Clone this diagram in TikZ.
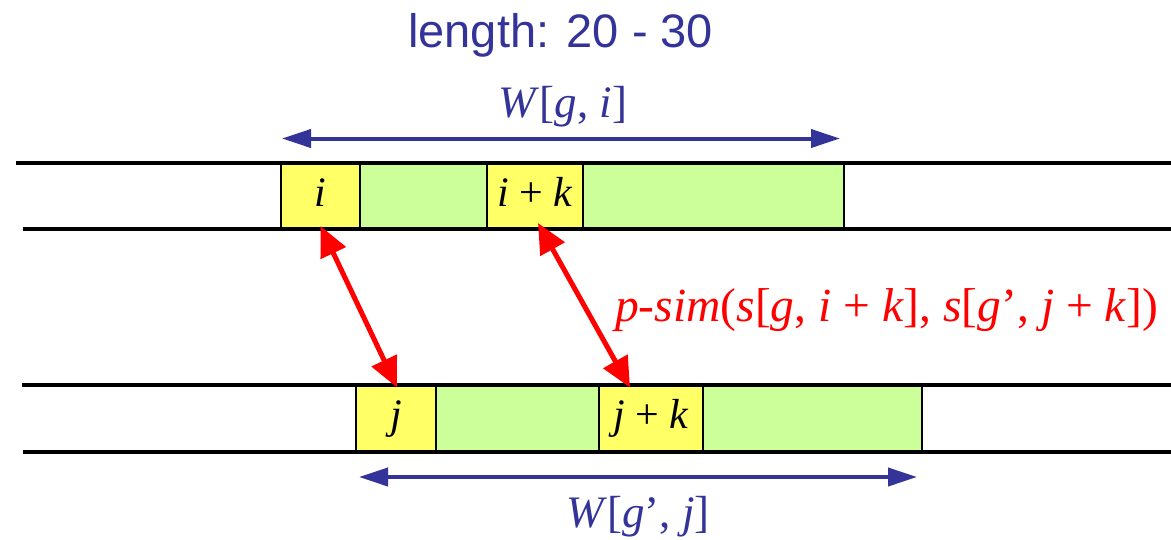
\documentclass[tikz,border=0pt]{standalone}
\usepackage{fontspec}
\setmainfont{Liberation Serif}
\newfontfamily\arialfont{Liberation Sans}
\usetikzlibrary{arrows.meta}
\definecolor{dblue}{RGB}{51,51,153}
\definecolor{byellow}{RGB}{255,255,102}
\definecolor{lgreen}{RGB}{204,255,153}
\begin{document}
\begin{tikzpicture}[x=1pt,y=-1pt,
  cell/.style={draw=black,line width=2pt,inner sep=0pt,outer sep=0pt,minimum height=66pt,
    font=\fontsize{42}{46}\selectfont,text height=29pt,text depth=9pt},
  ycell/.style={cell,fill=byellow},
  gcell/.style={cell,fill=lgreen},
  track/.style={line width=3.5pt,black},
  span/.style={draw=dblue,line width=4pt,{Triangle[length=29pt,width=18pt]}-{Triangle[length=29pt,width=18pt]}},
  link/.style={draw=red,line width=5pt,{Triangle[length=30pt,width=27pt]}-{Triangle[length=30pt,width=27pt]}},
  lbl/.style={inner sep=0pt,anchor=base,font=\fontsize{45}{50}\selectfont,text=dblue}
]
\useasboundingbox (0,0) rectangle (1171,539);
% title
\node[inner sep=0pt,anchor=base west,text=dblue,font=\arialfont\fontsize{47}{50}\selectfont] (title) at (408,47) {length: 20 - 30};
% top track boxes
\node[ycell,minimum width=79pt] (bi) at (320.5,196) {\textit{i}};
\node[gcell,minimum width=127pt] (g1) at (423.5,196) {};
\node[ycell,minimum width=96pt] (bik) at (535,196) {\textit{i} + \textit{k}};
\node[gcell,minimum width=261pt] (g2) at (713.5,196) {};
% bottom track boxes
\node[ycell,minimum width=80pt] (bj) at (396,418.5) {\textit{j}};
\node[gcell,minimum width=163pt] (g3) at (517.5,418.5) {};
\node[ycell,minimum width=104pt] (bjk) at (651,418.5) {\textit{j} + \textit{k}};
\node[gcell,minimum width=219pt] (g4) at (812.5,418.5) {};
% track lines
\draw[track] (16,163) -- (1171,163);
\draw[track] (23,229) -- (1171,229);
\draw[track] (22,385) -- (1171,385);
\draw[track] (23,452) -- (1171,452);
% spans
\coordinate (wl) at (282,138.5);
\coordinate (wr) at (840,138.5);
\draw[span] (wl) -- (wr);
\node[lbl] (wgi) at (563,117) {\textit{W}[\textit{g}, \textit{i}]};
\coordinate (vl) at (359,477);
\coordinate (vr) at (917,477);
\draw[span] (vl) -- (vr);
\node[lbl] (wgj) at (638,527) {\textit{W}[\textit{g}’, \textit{j}]};
% links
\draw[link] ([yshift=3pt]bi.south) -- ([yshift=-2pt,xshift=1pt]bj.north);
\draw[link] ([yshift=6pt,xshift=3pt]bik.south) -- ([yshift=-2pt,xshift=-21pt]bjk.north);
\node[inner sep=0pt,anchor=base west,text=red,font=\fontsize{47.5}{52}\selectfont] (psim) at (615,321)
  {\textit{p-sim}(\textit{s}[\textit{g}, \textit{i} + \textit{k}], \textit{s}[\textit{g}’, \textit{j} + \textit{k}])};
\end{tikzpicture}
\end{document}
